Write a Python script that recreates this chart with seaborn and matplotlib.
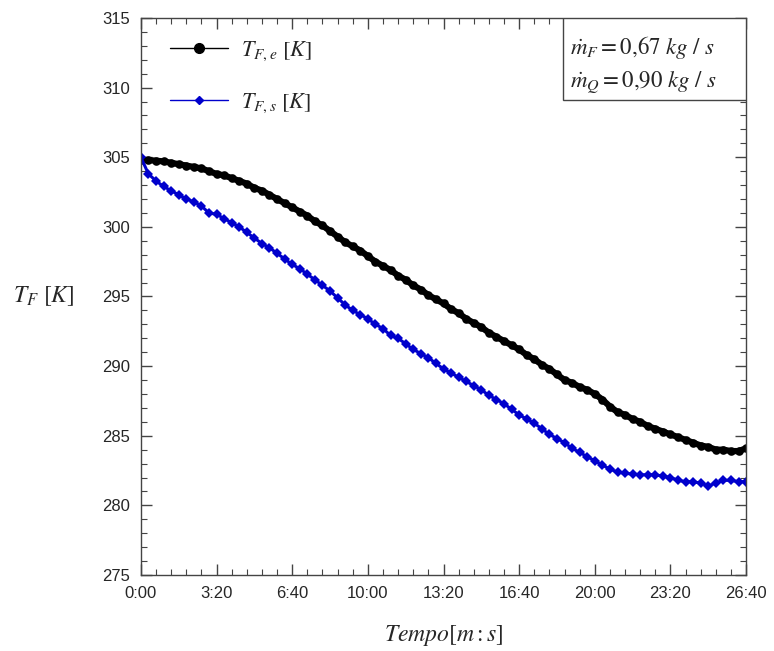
import numpy as np
import pandas as pd
import matplotlib
matplotlib.use("Agg")
import matplotlib.pyplot as plt
import seaborn as sns
from matplotlib.ticker import MultipleLocator, FuncFormatter
from matplotlib.lines import Line2D
from matplotlib.patches import Rectangle

# time in seconds, sampled every 20 s
tempo_s = list(range(0, 1601, 20))

T_Fe = [304.8, 304.8, 304.75, 304.7, 304.6, 304.5, 304.4, 304.3, 304.2, 304.0,
        303.8, 303.7, 303.5, 303.3, 303.1, 302.8, 302.6, 302.3, 302.0, 301.7,
        301.4, 301.1, 300.8, 300.4, 300.1, 299.7, 299.3, 298.9, 298.6, 298.3,
        297.9, 297.5, 297.2, 296.9, 296.5, 296.2, 295.8, 295.5, 295.1, 294.8,
        294.5, 294.1, 293.8, 293.4, 293.1, 292.8, 292.4, 292.1, 291.8, 291.5,
        291.2, 290.8, 290.5, 290.1, 289.8, 289.4, 289.0, 288.8, 288.5, 288.3,
        288.0, 287.6, 287.1, 286.7, 286.5, 286.2, 286.0, 285.7, 285.5, 285.3,
        285.1, 284.9, 284.7, 284.5, 284.3, 284.2, 284.0, 284.0, 283.9, 283.9,
        284.1]

T_Fs = [305.0, 303.8, 303.3, 302.9, 302.6, 302.3, 302.0, 301.8, 301.5, 301.0,
        300.9, 300.6, 300.3, 300.0, 299.6, 299.2, 298.8, 298.5, 298.1, 297.7,
        297.3, 297.0, 296.6, 296.2, 295.8, 295.4, 294.9, 294.4, 294.0, 293.7,
        293.4, 293.0, 292.7, 292.2, 292.0, 291.6, 291.2, 290.9, 290.6, 290.2,
        289.8, 289.5, 289.2, 288.9, 288.6, 288.3, 287.9, 287.6, 287.3, 286.9,
        286.5, 286.2, 285.9, 285.5, 285.1, 284.8, 284.5, 284.1, 283.8, 283.5,
        283.2, 282.9, 282.6, 282.4, 282.3, 282.25, 282.2, 282.2, 282.2, 282.1,
        282.0, 281.8, 281.7, 281.7, 281.6, 281.4, 281.6, 281.8, 281.8, 281.7,
        281.7]

labels = [r"$T_{F,e}\ \left[K\right]$", r"$T_{F,s}\ \left[K\right]$"]
box_lines = [r"$\dot{m}_F = \mathrm{0{,}67}\ kg\ /\ s$",
             r"$\dot{m}_Q = \mathrm{0{,}90}\ kg\ /\ s$"]

sns.set_style("ticks")
plt.rcParams["font.family"] = ["Liberation Sans", "DejaVu Sans"]
plt.rcParams["mathtext.fontset"] = "stix"

BLUE = "#0000cc"
fig = plt.figure(figsize=(7.74, 6.51), dpi=100)
ax = fig.add_axes([0.182, 0.1167, 0.782, 0.8557])

sns.lineplot(x=tempo_s, y=T_Fe, ax=ax, color="black", marker="o",
             markersize=6.2, markeredgewidth=0, linewidth=4.5, legend=False)
sns.lineplot(x=tempo_s, y=T_Fs, ax=ax, color=BLUE, marker="D",
             markersize=4.6, markeredgewidth=0, linewidth=2.2, legend=False)

ax.set_xlim(0, 1600)
ax.set_ylim(275, 315)
ax.xaxis.set_major_locator(MultipleLocator(200))
ax.xaxis.set_minor_locator(MultipleLocator(40))
ax.yaxis.set_major_locator(MultipleLocator(5))
ax.yaxis.set_minor_locator(MultipleLocator(1))
ax.xaxis.set_major_formatter(FuncFormatter(lambda v, p: f"{int(v)//60}:{int(v)%60:02d}"))
ax.tick_params(which="both", direction="in", top=True, right=True, color="#444444")
ax.tick_params(which="major", length=8, width=1, labelsize=12, pad=8)
ax.tick_params(which="minor", length=4, width=0.8)
for s in ax.spines.values():
    s.set_color("#444444")
    s.set_linewidth(1.0)

ax.set_xlabel(r"$Tempo\left[m:s\right]$", fontsize=17, labelpad=16)
ax.set_ylabel(r"$T_F\ \left[K\right]$", fontsize=17, rotation=0, labelpad=42, va="center")

handles = [Line2D([], [], color="black", marker="o", markersize=7, linewidth=1.0),
           Line2D([], [], color=BLUE, marker="D", markersize=4.5, linewidth=1.0)]
ax.legend(handles, labels, loc="upper left", bbox_to_anchor=(0.015, 0.998), frameon=False,
          fontsize=16, handlelength=2.6, handletextpad=0.6, labelspacing=1.3)

x0, y0 = 0.6975, 0.853
ax.add_patch(Rectangle((x0, y0), 1 - x0, 1 - y0, transform=ax.transAxes,
                       facecolor="white", edgecolor="#444444", linewidth=1.0, zorder=5))
ax.text(x0 + 0.012, 0.947, box_lines[0], transform=ax.transAxes, ha="left", va="center",
        fontsize=16.5, zorder=6)
ax.text(x0 + 0.012, 0.883, box_lines[1], transform=ax.transAxes, ha="left", va="center",
        fontsize=16.5, zorder=6)

fig.savefig("out.png", dpi=100)
